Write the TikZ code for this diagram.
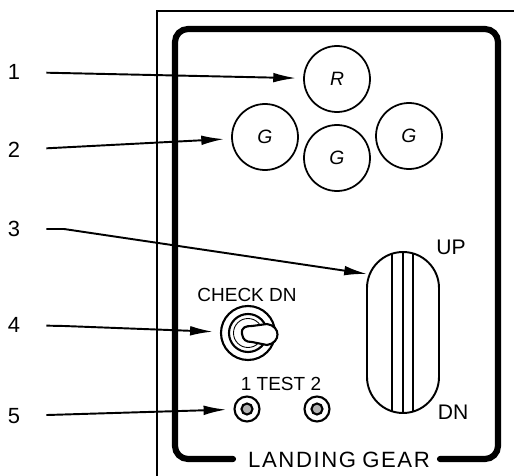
\documentclass[tikz,border=0pt]{standalone}
\usepackage{fontspec}
\setmainfont{Liberation Sans}
\usetikzlibrary{arrows.meta,positioning,calc}

\tikzset{
  lamp/.style={circle, draw, line width=1pt, minimum size=66*0.02cm, inner sep=0pt, font=\fontsize{11}{13}\selectfont\itshape},
  jack/.style={circle, draw, line width=1.2pt, minimum size=25*0.02cm, inner sep=0pt},
  callout/.style={font=\fontsize{12.5}{15}\selectfont, inner sep=0pt},
  caption/.style={font=\fontsize{10.8}{13}\selectfont, inner sep=0pt},
  leader/.style={line width=1.1pt, -{Latex[length=13pt,width=5.5pt]}, shorten >=4pt}
}

\begin{document}
\begin{tikzpicture}[x=0.02cm, y=-0.02cm]
  \useasboundingbox (0,0) rectangle (514,476);
  % outer frame and panel edge
  \draw[line width=1.1pt] (157,476) -- (157,11) -- (514,11);
  \draw[line width=3.5pt, line cap=round, rounded corners=13*0.02cm]
    (233,459) -- (175,459) -- (175,29) -- (498,29) -- (498,459) -- (440,459);
  \node[font=\fontsize{12.6}{15}\selectfont, inner sep=0pt] (title) at (339,460) {L\kern.9pt A\kern.9pt N\kern.9pt D\kern.9pt I\kern.9pt N\kern.9pt G\ G\kern.9pt E\kern.9pt A\kern.9pt R};
  % indicator lamps
  \node[lamp] (lampR) at (337,79) {R};
  \node[lamp] (lampL) at (265,137) {G};
  \node[lamp] (lampM) at (337,158) {G};
  \node[lamp] (lampN) at (409,136) {G};
  % gear handle
  \draw[line width=1.1pt, rounded corners=36*0.02cm] (367,252) rectangle (439,413);
  \foreach \x/\ya/\yb in {392/254/411,403/252/413,413/254/411} {
    \draw[line width=1.1pt] (\x,\ya) -- (\x,\yb);
  }
  \coordinate (handle) at (367,274);
  \node[caption, font=\fontsize{12}{14}\selectfont] (up) at (451,247) {UP};
  \node[caption, font=\fontsize{12}{14}\selectfont] (dn) at (453,412) {DN};
  % toggle switch
  \node[circle, draw, line width=1.2pt, minimum size=54*0.02cm, inner sep=0pt] (switch) at (248,333) {};
  \node[circle, draw, line width=1.2pt, minimum size=38*0.02cm, inner sep=0pt] at (switch) {};
  \node[circle, draw, line width=0.5pt, minimum size=29*0.02cm, inner sep=0pt] at (switch) {};
  \draw[line width=1.2pt, fill=white] (242,334) .. controls (241,327) and (246,326) .. (252,326)
    -- (267,324) .. controls (281,326) and (281,343) .. (267,345)
    -- (252,342) .. controls (246,342) and (243,340) .. (242,334) -- cycle;
  \node[caption] (check) at (247,295) {CHECK DN};
  % test jacks
  \foreach \name/\x in {jackA/247,jackB/317} {
    \node[jack] (\name) at (\x,409) {};
    \node[circle, draw, line width=1.2pt, fill=black!30, minimum size=11*0.02cm, inner sep=0pt] at (\name) {};
  }
  \node[caption] (test) at (281,384) {1 TEST 2};
  % callouts
  \node[callout] (one) at (14,72) {1};
  \node[callout] (two) at (14,150) {2};
  \node[callout] (three) at (14,229) {3};
  \node[callout] (four) at (14,325) {4};
  \node[callout] (five) at (14,416) {5};
  \draw[leader, shorten <=26*0.02cm] (one) -- (lampR);
  \draw[leader, shorten <=26*0.02cm] (two) -- (lampL);
  \draw[leader, shorten <=26*0.02cm, shorten >=0pt] (three) -- ++(50,0) -- (handle);
  \draw[leader, shorten <=26*0.02cm] (four) -- ++(50,1) -- (switch);
  \draw[leader, shorten <=26*0.02cm] (five) -- (jackA);
\end{tikzpicture}
\end{document}
